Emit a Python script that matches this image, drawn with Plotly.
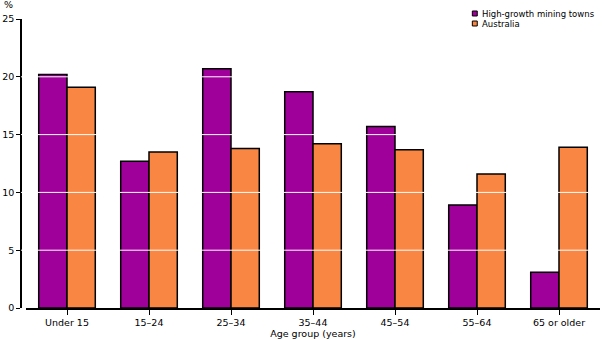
import plotly.graph_objects as go

categories = ["Under 15", "15\u201324", "25\u201334", "35\u201344", "45\u201354", "55\u201364", "65 or older"]
mining_towns = [20.2, 12.7, 20.7, 18.7, 15.7, 8.9, 3.1]
australia = [19.1, 13.5, 13.8, 14.2, 13.7, 11.6, 13.9]
y_ticks = [0, 5, 10, 15, 20, 25]

series_names = ["High-growth mining towns", "Australia"]
series_colors = ["#a0009a", "#f98642"]

FAMILY = "DejaVu Sans, Verdana, sans-serif"

fig = go.Figure()
for name, vals, col in zip(series_names, [mining_towns, australia], series_colors):
    fig.add_trace(go.Bar(
        x=categories, y=vals, name=name, showlegend=False,
        marker=dict(color=col, line=dict(color="#000000", width=1.5)),
    ))

shapes = []
# white gridlines drawn over the bars
for v in y_ticks[1:-1]:
    shapes.append(dict(type="line", xref="paper", yref="y", x0=0, x1=1, y0=v, y1=v,
                       line=dict(color="#ffffff", width=1), layer="above"))

# compact legend: small outlined squares with labels
annotations = []
legend_rows = [(1.0277, 1.0104, 1.019), (0.993, 0.9758, 0.9844)]
for (y_top, y_bot, y_mid), name, col in zip(legend_rows, series_names, series_colors):
    shapes.append(dict(type="rect", xref="paper", yref="paper",
                       x0=0.7795, x1=0.7880, y0=y_bot, y1=y_top,
                       fillcolor=col, line=dict(color="#000000", width=1), layer="above"))
    annotations.append(dict(text=name, xref="paper", yref="paper", x=0.7935, y=y_mid,
                            xanchor="left", yanchor="middle", showarrow=False,
                            font=dict(family=FAMILY, size=8.5, color="#000000")))

annotations.append(dict(text="%", xref="paper", yref="paper", x=-0.0216, y=1.024,
                        xanchor="center", yanchor="bottom", showarrow=False,
                        font=dict(family=FAMILY, size=9.5, color="#000000")))

fig.update_layout(
    width=605, height=340,
    margin=dict(l=21, r=5, t=19, b=32, autoexpand=False),
    paper_bgcolor="#ffffff", plot_bgcolor="#ffffff",
    barmode="group", bargap=0.31, bargroupgap=0,
    font=dict(family=FAMILY, size=9.5, color="#000000"),
    showlegend=False,
    xaxis=dict(domain=[0.00864, 1], showline=True, linecolor="#000000", linewidth=1.5,
               ticks="outside", ticklen=5, tickcolor="#000000", tickwidth=1,
               automargin=False,
               title=dict(text="Age group (years)", standoff=3, font=dict(size=9.5)),
               showgrid=False),
    yaxis=dict(range=[0, 25], tickvals=y_ticks, anchor="free", position=0,
               showline=True, linecolor="#000000", linewidth=1.5, automargin=False,
               ticks="outside", ticklen=4, tickcolor="#000000", tickwidth=1,
               showgrid=False, zeroline=False),
    shapes=shapes,
    annotations=annotations,
)

fig.write_html("out.html")
